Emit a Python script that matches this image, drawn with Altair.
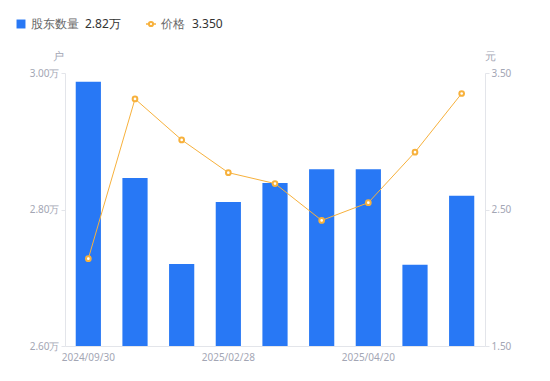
import altair as alt
import pandas as pd

dates = ["2024/09/30", "2024/12/31", "2025/01/10", "2025/02/28", "2025/03/20",
         "2025/03/31", "2025/04/20", "2025/06/30", "2025/07/20"]
holders = [2.987, 2.846, 2.720, 2.811, 2.839, 2.859, 2.859, 2.719, 2.820]
price = [2.14, 3.31, 3.01, 2.77, 2.69, 2.42, 2.55, 2.92, 3.35]

df = pd.DataFrame({"date": dates, "holders": holders, "price": price})

BLUE = "#2878F5"
ORANGE = "#F7B13C"
LABEL = "#A3A6B4"
AXIS = "#E3E5EA"

x = alt.X("date:N", sort=dates, title=None,
          scale=alt.Scale(paddingInner=0.46, paddingOuter=0.23),
          axis=alt.Axis(labelAngle=0, ticks=False, domainColor=AXIS, labelColor=LABEL,
                        labelFontSize=10, labelPadding=6,
                        labelExpr="indexof(['2024/09/30','2025/02/28','2025/04/20'], datum.value) >= 0 ? datum.value : ''"))

bars = alt.Chart(df).mark_bar(color=BLUE, clip=True).encode(
    x=x,
    y=alt.Y("holders:Q", title=None,
            scale=alt.Scale(domain=[2.6, 3.0], zero=False, nice=False),
            axis=alt.Axis(orient="left", values=[2.6, 2.8, 3.0], grid=False,
                          labelExpr="format(datum.value, '.2f') + '万'",
                          domainColor=AXIS, tickColor=AXIS, tickSize=4,
                          labelColor=LABEL, labelFontSize=10)),
)

line = alt.Chart(df).mark_line(color=ORANGE, strokeWidth=1,
                               point=alt.OverlayMarkDef(filled=True, fill="white", stroke=ORANGE,
                                                        strokeWidth=2, size=22)).encode(
    x=x,
    y=alt.Y("price:Q", title=None,
            scale=alt.Scale(domain=[1.5, 3.5], zero=False, nice=False),
            axis=alt.Axis(orient="right", values=[1.5, 2.5, 3.5], grid=False,
                          format=".2f", domainColor=AXIS, tickColor=AXIS, tickSize=4,
                          labelColor=LABEL, labelFontSize=10)),
)

one = pd.DataFrame({"k": [0]})

def txt(s, xv, yv, color, size=12, align="left"):
    return alt.Chart(one).mark_text(text=s, color=color, fontSize=size, align=align,
                                    baseline="middle").encode(x=alt.value(xv), y=alt.value(yv))

leg_sq = alt.Chart(one).mark_square(color=BLUE, size=80, opacity=1).encode(
    x=alt.value(-44), y=alt.value(-49))
leg_line = alt.Chart(one).mark_rule(color=ORANGE, strokeWidth=1.5).encode(
    x=alt.value(81), x2=alt.value(91), y=alt.value(-49))
leg_pt = alt.Chart(one).mark_circle(fill="white", stroke=ORANGE, strokeWidth=2, size=18, opacity=1).encode(
    x=alt.value(86), y=alt.value(-49))

layers = [
    txt("股东数量", -34, -49, "#666666"),
    txt(f"{holders[-1]:.2f}万", 20, -49, "#333333"),
    txt("价格", 96, -49, "#666666"),
    txt(f"{price[-1]:.3f}", 127, -49, "#333333"),
    txt("户", -7, -16, LABEL, 11, "center"),
    txt("元", 425, -16, LABEL, 11, "center"),
]

chart = alt.layer(bars, line, leg_sq, leg_line, leg_pt, *layers).resolve_scale(
    y="independent"
).properties(
    width=420, height=273,
    autosize=alt.AutoSizeParams(type="none"),
    padding={"left": 57, "top": 65, "right": 57, "bottom": 27},
).configure(font="Noto Sans").configure_view(stroke="transparent", strokeWidth=0)

chart.save("out.html", embed_options={"renderer": "svg", "actions": False})
